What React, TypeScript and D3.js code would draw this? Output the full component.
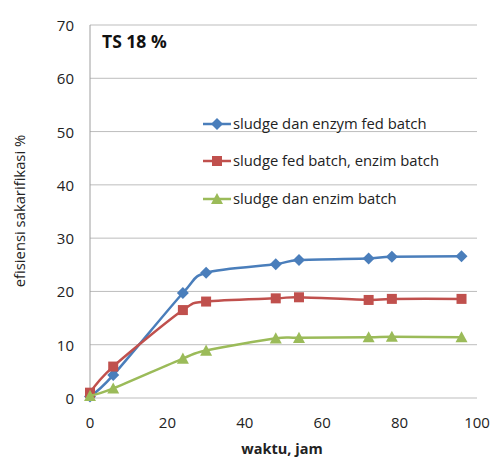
import React from "react";
import * as d3 from "d3";

// Sampling times (jam)
const waktu = [0, 6, 24, 30, 48, 54, 72, 78, 96];

// Saccharification efficiency (%) per series
const fedBatchEnzym = [0.3, 4.3, 19.7, 23.5, 25.1, 25.9, 26.2, 26.5, 26.6];
const fedBatchSludge = [1.0, 5.9, 16.5, 18.1, 18.7, 18.9, 18.4, 18.6, 18.6];
const batchEnzim = [0.4, 1.8, 7.4, 8.9, 11.2, 11.3, 11.4, 11.5, 11.4];

const seriesNames = [
  "sludge dan enzym fed batch",
  "sludge fed batch, enzim batch",
  "sludge dan enzim batch",
];
const seriesColors = ["#4a7ebb", "#c0504d", "#9bbb59"];
const seriesShapes = ["diamond", "square", "triangle"];

const xTicks = [0, 20, 40, 60, 80, 100];
const yTicks = [0, 10, 20, 30, 40, 50, 60, 70];

const W = 497;
const H = 459;
const FONT = "'Open Sans', 'Noto Sans', sans-serif";

function Marker({ shape, x, y, color }: { shape: string; x: number; y: number; color: string }) {
  if (shape === "diamond") {
    const s = 6;
    return (
      <path
        d={`M${x},${y - s}L${x + s},${y}L${x},${y + s}L${x - s},${y}Z`}
        fill={color}
      />
    );
  }
  if (shape === "square") {
    const s = 5;
    return <rect x={x - s} y={y - s} width={2 * s} height={2 * s} fill={color} />;
  }
  const s = 6;
  return (
    <path
      d={`M${x},${y - s}L${x + s},${y + s * 0.85}L${x - s},${y + s * 0.85}Z`}
      fill={color}
    />
  );
}

export default function App() {
  const x = d3.scaleLinear().domain([0, 100]).range([90, 477]);
  const y = d3.scaleLinear().domain([0, 70]).range([398, 25]);

  const data = [fedBatchEnzym, fedBatchSludge, batchEnzim];
  const line = d3
    .line<number>()
    .x((_, i) => x(waktu[i]))
    .y((d) => y(d))
    .curve(d3.curveCardinal.tension(0.1));

  const legendY = [124, 161, 199];

  return (
    <svg
      width={W}
      height={H}
      style={{ position: "absolute", left: 0, top: 0, background: "#fff" }}
      fontFamily={FONT}
    >
      {/* horizontal grid */}
      {yTicks.map((t) => (
        <line key={t} x1={90} x2={477} y1={y(t)} y2={y(t)} stroke="#bdbdbd" strokeWidth={1} />
      ))}
      {/* y axis line */}
      <line x1={90} x2={90} y1={y(70)} y2={y(0)} stroke="#9e9e9e" strokeWidth={1} />

      {/* y tick labels */}
      {yTicks.map((t) => (
        <text key={t} x={74} y={y(t) + 6} textAnchor="end" fontSize={15} fill="#222">
          {t}
        </text>
      ))}
      {/* x tick labels */}
      {xTicks.map((t) => (
        <text key={t} x={x(t)} y={428} textAnchor="middle" fontSize={15} fill="#222">
          {t}
        </text>
      ))}

      {/* axis titles */}
      <text x={282} y={454} textAnchor="middle" fontSize={14.5} fontWeight="bold" fill="#222">
        waktu, jam
      </text>
      <text
        transform="translate(25,211) rotate(-90)"
        textAnchor="middle"
        fontSize={14.8}
        fill="#222"
      >
        efisiensi sakarifikasi %
      </text>

      {/* panel label */}
      <text x={102} y={48} fontSize={17.5} fontWeight="bold" fill="#111">
        TS 18 %
      </text>

      {/* series */}
      {data.map((vals, si) => (
        <g key={si}>
          <path d={line(vals) ?? ""} fill="none" stroke={seriesColors[si]} strokeWidth={2.5} />
          {vals.map((v, i) => (
            <Marker key={i} shape={seriesShapes[si]} x={x(waktu[i])} y={y(v)} color={seriesColors[si]} />
          ))}
        </g>
      ))}

      {/* legend */}
      {seriesNames.map((name, i) => (
        <g key={name}>
          <line x1={203} x2={231} y1={legendY[i]} y2={legendY[i]} stroke={seriesColors[i]} strokeWidth={2.5} />
          <Marker shape={seriesShapes[i]} x={217} y={legendY[i]} color={seriesColors[i]} />
          <text x={233} y={legendY[i] + 5} fontSize={14.8} fill="#222">
            {name}
          </text>
        </g>
      ))}
    </svg>
  );
}
